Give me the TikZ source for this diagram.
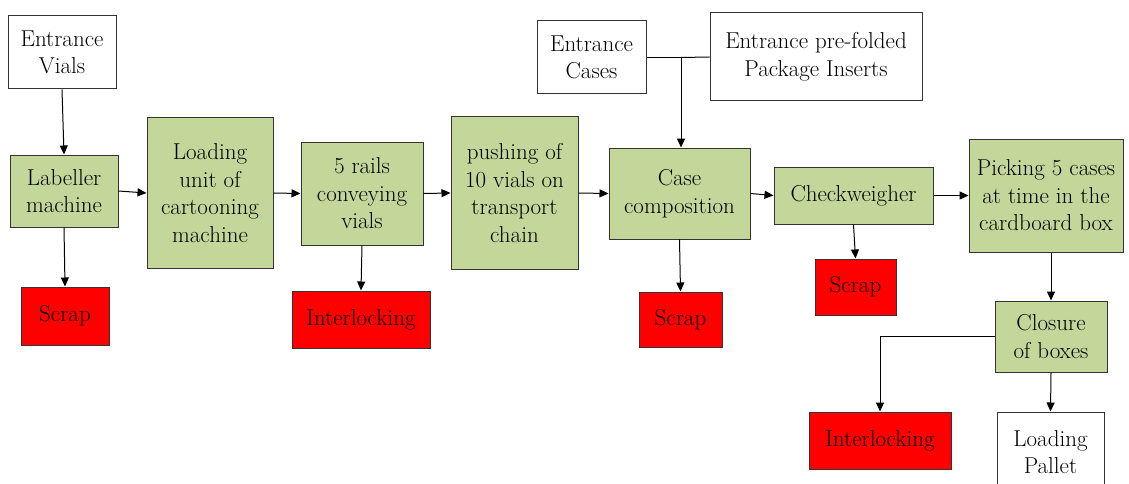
\documentclass[tikz,border=0pt]{standalone}
\usetikzlibrary{arrows.meta}
\definecolor{boxgreen}{HTML}{C4D79B}
\definecolor{boxred}{HTML}{FF0000}
\definecolor{edgegray}{HTML}{333333}
\begin{document}
\begin{tikzpicture}[x=1pt,y=-1pt,
  base/.style={draw=edgegray,line width=1pt,align=center,inner sep=0pt,
    font=\fontsize{23}{27.5}\selectfont},
  whitebox/.style={base,fill=white},
  greenbox/.style={base,fill=boxgreen},
  redbox/.style={base,fill=boxred},
  conn/.style={line width=1pt,-{Triangle[length=9pt,width=8pt]}},
  plain/.style={line width=1pt}]
\useasboundingbox (0,0) rectangle (1129,484);
\clip (0,0) rectangle (1129,484);
\node[whitebox,minimum width=108pt,minimum height=73pt] (ev) at (62,52.5) {Entrance\\Vials};
\node[greenbox,minimum width=108pt,minimum height=72pt] (lab) at (64,191) {Labeller\\machine};
\node[greenbox,minimum width=126pt,minimum height=150pt] (load) at (210,193) {Loading\\unit of\\cartooning\\machine};
\node[redbox,minimum width=88pt,minimum height=58pt] (scr1) at (65,316) {Scrap};
\node[greenbox,minimum width=122pt,minimum height=103pt] (rails) at (362,193.5) {5 rails\\conveying\\vials};
\node[redbox,minimum width=138pt,minimum height=57pt] (int1) at (361,319.5) {Interlocking};
\node[greenbox,minimum width=127pt,minimum height=152pt] (push) at (514.5,193) {pushing of\\10 vials on\\transport\\chain};
\node[whitebox,minimum width=109pt,minimum height=73pt] (ec) at (591.5,57.5) {Entrance\\Cases};
\node[whitebox,minimum width=212pt,minimum height=88pt] (epf) at (816,57) {Entrance pre-folded\\Package Inserts};
\node[greenbox,minimum width=141pt,minimum height=91pt] (case) at (679.5,193.5) {Case\\composition};
\node[redbox,minimum width=83pt,minimum height=55pt] (scr2) at (680.5,319.5) {Scrap};
\node[greenbox,minimum width=159pt,minimum height=57pt] (chk) at (853.5,195.5) {Checkweigher};
\node[redbox,minimum width=81pt,minimum height=56pt] (scr3) at (855.5,287) {Scrap};
\node[greenbox,minimum width=154pt,minimum height=113pt] (pick) at (1046,195.5) {Picking 5 cases\\at time in the\\cardboard box};
\node[greenbox,minimum width=112pt,minimum height=71pt] (clo) at (1051,336.5) {Closure\\of boxes};
\node[redbox,minimum width=142pt,minimum height=57pt] (int2) at (880,440.5) {Interlocking};
\node[whitebox,minimum width=107pt,minimum height=80pt] (pal) at (1050.5,452) {Loading\\Pallet};
\coordinate (j) at (681,57.5);
\draw[conn] (ev.south) -- (lab.north);
\draw[conn] (lab.east) -- (load.west);
\draw[conn] (load.east) -- (rails.west);
\draw[conn] (rails.east) -- (push.west);
\draw[conn] (push.east) -- (case.west);
\draw[conn] (case.east) -- (chk.west);
\draw[conn] (chk.east) -- (pick.west);
\draw[conn] (lab.south) -- (scr1.north);
\draw[conn] (rails.south) -- (int1.north);
\draw[conn] (case.south) -- (scr2.north);
\draw[conn] (chk.south) -- (scr3.north);
\draw[plain] (ec.east) -- (j);
\draw[plain] (epf.west) -- (j);
\draw[conn] (j) -- (j |- case.north);
\draw[conn] (pick.south -| clo.north) -- (clo.north);
\draw[conn] (clo.west) -- (int2.north |- clo.west) -- (int2.north);
\draw[conn] (clo.south) -- (pal.north);
\end{tikzpicture}
\end{document}
